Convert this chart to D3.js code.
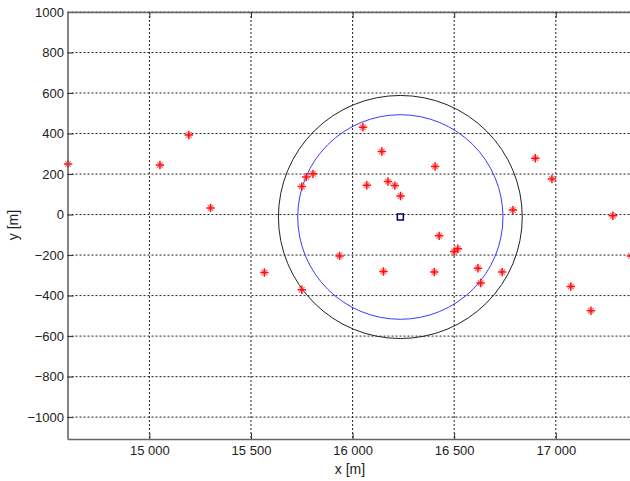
<!DOCTYPE html>
<html>
<head>
<meta charset="utf-8">
<script src="https://cdn.jsdelivr.net/npm/d3@7"></script>
<style>
  body { margin: 0; background: #fff; }
  svg { display: block; font-family: "Liberation Sans", Arial, sans-serif; }
</style>
</head>
<body>
<svg id="chart" width="630" height="481"></svg>
<script>
// measured positions (x, y in metres)
const pointsX = [14600, 15052, 15194, 15301, 15750, 15772, 15805, 16051, 16144, 16070,
  16174, 16208, 16236, 16406, 16899, 16981, 16789, 17281, 16426, 15566,
  15750, 15936, 16500, 16518, 16152, 16402, 16617, 16736, 16630, 17074,
  17173, 17370];
const pointsY = [250, 245, 393, 33, 138, 185, 201, 431, 311, 145,
  163, 143, 92, 237, 278, 175, 22, -6, -105, -286,
  -371, -204, -182, -169, -281, -284, -265, -284, -338, -355,
  -475, -204];
const center = [16235, -12];
const radii = [600, 505]; // outer (black), inner (blue)
const xTicks = [15000, 15500, 16000, 16500, 17000];
const xTickLabels = ["15 000", "15 500", "16 000", "16 500", "17 000"];
const yTicks = [-1000, -800, -600, -400, -200, 0, 200, 400, 600, 800, 1000];

const svg = d3.select("#chart");
const mLeft = 67.5, mTop = 12, mBottom = 439;

const x = d3.scaleLinear().domain([14597, 17400]).range([mLeft, mLeft + 2803 * 0.2032]);
const y = d3.scaleLinear().domain([-1108, 1000]).range([mBottom, mTop]);
const mRight = x.range()[1];

const g = svg.append("g");

// grid
g.selectAll(".gx").data(xTicks).join("line")
  .attr("x1", d => x(d)).attr("x2", d => x(d))
  .attr("y1", mTop).attr("y2", mBottom)
  .attr("stroke", "#222").attr("stroke-dasharray", "2,2").attr("stroke-width", 1);
g.selectAll(".gy").data(yTicks).join("line")
  .attr("y1", d => y(d)).attr("y2", d => y(d))
  .attr("x1", mLeft).attr("x2", mRight)
  .attr("stroke", "#222").attr("stroke-dasharray", "2,2").attr("stroke-width", 1);

// circles
const circleColors = ["#222", "#3a3aff"];
g.selectAll(".ring").data(radii).join("ellipse")
  .attr("cx", x(center[0])).attr("cy", y(center[1]))
  .attr("rx", d => x(center[0] + d) - x(center[0]))
  .attr("ry", d => y(center[1] - d) - y(center[1]))
  .attr("fill", "none")
  .attr("stroke", (d, i) => circleColors[i]).attr("stroke-width", 1);

// red markers: soft diagonal spokes under a sharper plus
const pts = pointsX.map((d, i) => [d, pointsY[i]]);
g.selectAll(".ptx").data(pts).join("path")
  .attr("transform", d => `translate(${x(d[0])},${y(d[1])})`)
  .attr("d", "M-2.8,-2.8L2.8,2.8M-2.8,2.8L2.8,-2.8")
  .attr("fill", "none").attr("stroke", "#ff7070").attr("stroke-width", 1.3);
g.selectAll(".ptp").data(pts).join("path")
  .attr("transform", d => `translate(${x(d[0])},${y(d[1])})`)
  .attr("d", "M-4.2,0H4.2M0,-4.2V4.2")
  .attr("fill", "none").attr("stroke", "#ff1010").attr("stroke-width", 1.5);

// centre square
g.append("rect")
  .attr("x", x(center[0]) - 3).attr("y", y(center[1]) - 3)
  .attr("width", 6).attr("height", 6)
  .attr("fill", "#fff").attr("stroke", "#000070").attr("stroke-width", 1.5);

// axes with inner ticks
const axisColor = "#666";
const xAxis = svg.append("g").attr("transform", `translate(0,${mBottom})`)
  .call(d3.axisBottom(x).tickValues(xTicks).tickFormat((d, i) => xTickLabels[i])
    .tickSizeInner(-6).tickSizeOuter(0).tickPadding(6.5));
const yAxis = svg.append("g").attr("transform", `translate(${mLeft},0)`)
  .call(d3.axisLeft(y).tickValues(yTicks).tickFormat(d3.format("d"))
    .tickSizeInner(-6).tickSizeOuter(0).tickPadding(5));
const topAxis = svg.append("g").attr("transform", `translate(0,${mTop})`)
  .call(d3.axisTop(x).tickValues(xTicks).tickFormat("").tickSizeInner(-6).tickSizeOuter(0));

[xAxis, yAxis, topAxis].forEach(a => {
  a.select(".domain").attr("stroke", axisColor).attr("stroke-width", 1.6);
  a.selectAll(".tick line").attr("stroke", "#333");
  a.selectAll("text").attr("font-size", 13).attr("fill", "#222")
    .attr("font-family", "'Liberation Sans', Arial, sans-serif");
});
yAxis.selectAll("text").attr("dx", "1.5");

// axis titles
svg.append("text").attr("x", 350).attr("y", 474).attr("text-anchor", "middle")
  .attr("font-size", 14).attr("fill", "#222").text("x [m]");
svg.append("text").attr("transform", "translate(18,225) rotate(-90)")
  .attr("text-anchor", "middle").attr("font-size", 14).attr("fill", "#222").text("y [m]");
</script>
</body>
</html>
